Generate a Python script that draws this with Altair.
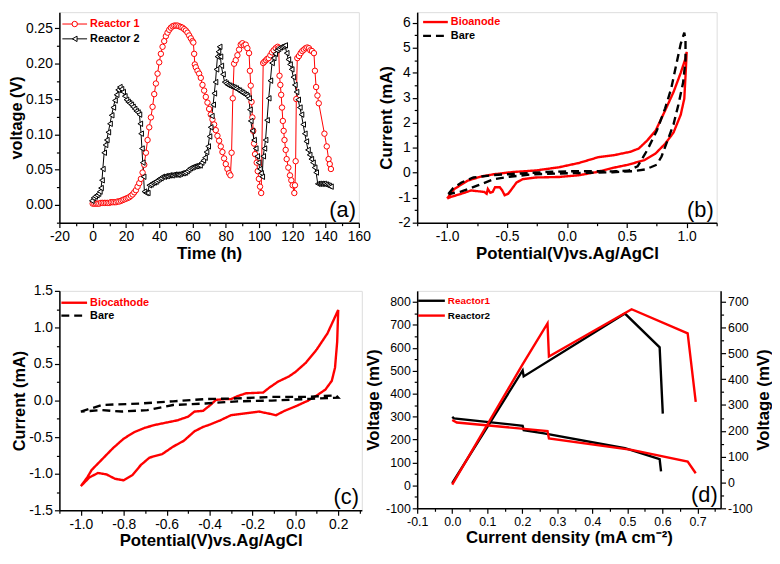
import altair as alt
import pandas as pd

RED = "#ff0000"
BLACK = "#000000"
FONT = "Liberation Sans"

# ---------------- panel (a): voltage vs time ----------------
r1_time = [0, 1, 2, 3, 4, 5, 6, 7, 8, 9, 10, 11, 12, 13, 14, 15, 16, 17, 18, 19, 20,
           21, 22, 23, 24, 25, 26, 27, 28, 29, 30, 31, 32, 33, 34, 35, 36, 37, 38, 39, 40,
           41, 42, 43, 44, 45, 46, 47, 48, 49, 50, 51, 52, 53, 54, 55, 56, 57, 58, 59, 60,
           60.5, 61, 61.4, 62, 63, 64, 65, 66, 67, 68, 69, 70, 71, 72, 73, 74, 75, 76, 77,
           78, 79, 80, 81, 82, 82.8, 83.5, 84.2, 85, 86, 87, 88, 89, 90, 91, 92, 93, 94,
           94.5, 95, 95.5, 96, 96.5, 97, 97.6, 98.6, 99.2, 99.9, 100.6, 101.3, 102.5, 103.3,
           104.2, 105, 105.8, 106.8, 107.8, 108.8, 110, 111.2, 111.8, 112.3, 112.8, 113.3,
           113.8, 114.3, 114.8, 115.3, 116, 116.6, 117.6, 118.6, 119.4, 120.2, 121.2, 121.6,
           122, 122.4, 123, 124, 125, 126, 127, 128, 129, 130, 130.8, 131.8, 133, 133.6,
           134.3, 135.1, 135.9, 139.3, 140.7, 141.8, 142.5, 143.2]
r1_volt = [0.002, 0.002, 0.002, 0.002, 0.002, 0.003, 0.003, 0.003, 0.003, 0.003, 0.003,
           0.004, 0.004, 0.004, 0.004, 0.005, 0.005, 0.006, 0.007, 0.008, 0.009,
           0.010, 0.011, 0.013, 0.015, 0.018, 0.021, 0.026, 0.031, 0.037, 0.046, 0.057,
           0.074, 0.092, 0.110, 0.124, 0.139, 0.157, 0.172, 0.186, 0.202,
           0.214, 0.224, 0.232, 0.239, 0.244, 0.248, 0.251, 0.253, 0.254, 0.254, 0.254,
           0.253, 0.252, 0.251, 0.249, 0.247, 0.244, 0.240, 0.236, 0.232,
           0.230, 0.214, 0.199, 0.195, 0.190, 0.186, 0.180, 0.170, 0.162, 0.153, 0.145,
           0.136, 0.128, 0.121, 0.114, 0.106, 0.098, 0.091, 0.083,
           0.075, 0.066, 0.058, 0.051, 0.045, 0.042, 0.074, 0.151, 0.200, 0.205, 0.212,
           0.220, 0.227, 0.229, 0.226, 0.227, 0.222, 0.215,
           0.190, 0.169, 0.146, 0.124, 0.105, 0.087, 0.072, 0.060, 0.048, 0.037, 0.026,
           0.017, 0.201, 0.203,
           0.205, 0.207, 0.208, 0.212, 0.216, 0.219, 0.222, 0.224, 0.222, 0.183, 0.170,
           0.156, 0.138, 0.119, 0.105, 0.092, 0.078, 0.065, 0.053, 0.042, 0.035, 0.028,
           0.017, 0.028, 0.062, 0.150, 0.208, 0.211, 0.215, 0.218, 0.220, 0.222, 0.223,
           0.222, 0.219, 0.218, 0.215, 0.190, 0.167, 0.155, 0.144, 0.101, 0.083, 0.065,
           0.058, 0.051]
r2_time = [-0.5, 0.5, 1.5, 2.5, 3.5, 4.3, 5, 5.6, 6.1, 6.9, 7.7, 8.5, 9.4, 10.4, 11.4,
           12.4, 13.4, 14.4, 15.3, 16.3, 17.3, 18.3, 19.3, 20.3, 21.3, 22.2, 23.2, 24.2,
           25.2, 26.2, 27.2, 28.1, 28.6, 29.1, 29.6, 30.1, 30.6, 31.1, 32.1, 33.1, 34, 35,
           36, 37, 38, 39, 40, 41, 41.9, 43, 44, 45, 46, 47, 48, 49, 50, 51, 51.7, 52.7,
           53.7, 54.7, 55.7, 56.7, 57.7, 58.6, 59.6, 60.6, 61.6, 62.6, 63.5, 64.5, 65.5,
           66.5, 67.5, 68.4, 69.4, 70.2, 70.9, 71.6, 72.4, 73.1, 73.8, 74.4, 75, 75.6, 76.3,
           76.8, 77.3, 78.3, 79.3, 80.3, 81.2, 82.2, 83.2, 84.2, 85.2, 86.2, 87.2, 88.2,
           89.1, 90.1, 91.1, 92.1, 93, 94, 94.5, 95, 96, 97, 98, 98.9, 99.7, 100.5, 101.2,
           101.9, 102.5, 103.2, 103.9, 104.8, 105.8, 106.8, 107.8, 108.8, 109.7, 110.7,
           111.7, 112.7, 113.7, 114.7, 115.7, 116.6, 117.6, 118.6, 119.6, 120.6, 121.5,
           122.5, 123.5, 124.5, 125.5, 126.5, 127.5, 128.4, 129.4, 130.4, 131.4, 132.4,
           133.4, 134.3, 135.3, 136.3, 137.3, 138.3, 139.3, 140.3, 141.3, 142.2, 143.2]
r2_volt = [0.006, 0.010, 0.012, 0.014, 0.016, 0.019, 0.024, 0.035, 0.051, 0.074, 0.085,
           0.092, 0.103, 0.115, 0.127, 0.138, 0.148, 0.156, 0.163, 0.167, 0.164, 0.160,
           0.154, 0.149, 0.146, 0.144, 0.142, 0.139, 0.136, 0.133, 0.131, 0.128, 0.115,
           0.101, 0.080, 0.060, 0.040, 0.019, 0.017, 0.017, 0.028, 0.029, 0.031, 0.032,
           0.033, 0.035, 0.037, 0.038, 0.040, 0.040, 0.041, 0.041, 0.042, 0.042, 0.042,
           0.043, 0.043, 0.043, 0.043, 0.044, 0.045, 0.045, 0.046, 0.048, 0.050, 0.052,
           0.053, 0.054, 0.055, 0.055, 0.056, 0.056, 0.060, 0.063, 0.067, 0.075, 0.083,
           0.097, 0.110, 0.126, 0.142, 0.158, 0.174, 0.192, 0.210, 0.217, 0.224, 0.210,
           0.197, 0.185, 0.174, 0.172, 0.170, 0.169, 0.168, 0.167, 0.166, 0.165, 0.163,
           0.162, 0.160, 0.159, 0.157, 0.156, 0.154, 0.151, 0.135, 0.119, 0.105, 0.092,
           0.080, 0.069, 0.060, 0.051, 0.045, 0.040, 0.069, 0.080, 0.092, 0.120, 0.151,
           0.176, 0.201, 0.208, 0.214, 0.219, 0.221, 0.223, 0.224, 0.225, 0.226, 0.215,
           0.206, 0.199, 0.192, 0.181, 0.170, 0.160, 0.149, 0.138, 0.128, 0.114, 0.101,
           0.090, 0.078, 0.071, 0.065, 0.060, 0.053, 0.046, 0.030, 0.030, 0.030, 0.030,
           0.030, 0.029, 0.028, 0.027, 0.026]
a_x_ticks = [-20, 0, 20, 40, 60, 80, 100, 120, 140, 160]
a_x_minor = [-10, 10, 30, 50, 70, 90, 110, 130, 150]
a_y_ticks = [0.0, 0.05, 0.10, 0.15, 0.20, 0.25]
a_y_minor = [-0.025, 0.025, 0.075, 0.125, 0.175, 0.225]

# ---------------- panel (b): bioanode CV ----------------
anode_E = [-1.0, -0.94, -0.83, -0.72, -0.61, -0.45, -0.26, -0.065, 0.1, 0.26, 0.40, 0.53,
           0.60, 0.67, 0.74, 0.81, 0.89, 0.95, 0.99, 1.0,
           0.99, 0.98, 0.95, 0.89, 0.82, 0.74, 0.65, 0.51, 0.38, 0.24, 0.1, -0.065, -0.26,
           -0.37, -0.42, -0.46, -0.49, -0.52, -0.54, -0.56, -0.60, -0.62, -0.64, -0.66,
           -0.67, -0.69, -0.80, -0.88, -0.97, -1.0]
anode_I = [-1.03, -0.65, -0.32, -0.155, -0.06, 0.03, 0.09, 0.22, 0.39, 0.62, 0.71, 0.84,
           0.97, 1.29, 1.68, 2.39, 3.23, 4.0, 4.58, 4.84,
           3.87, 2.97, 2.32, 1.61, 1.16, 0.77, 0.51, 0.32, 0.19, 0.02, -0.1, -0.17, -0.19,
           -0.26, -0.39, -0.65, -0.84, -0.90, -0.71, -0.58, -0.58, -0.77, -0.80, -0.65,
           -0.84, -0.77, -0.71, -0.84, -0.97, -1.03]
bare_b_E = [-0.99, -0.95, -0.88, -0.78, -0.61, -0.39, -0.17, 0.02, 0.26, 0.38, 0.51, 0.59,
            0.67, 0.75, 0.82, 0.87, 0.91, 0.95, 0.98, 0.99, 0.99, 0.97, 0.93, 0.89, 0.84,
            0.79, 0.75, 0.70, 0.65, 0.55, 0.38, 0.2, -0.07, -0.28, -0.48, -0.61, -0.75,
            -0.88, -0.99]
bare_b_I = [-0.85, -0.62, -0.39, -0.19, -0.09, -0.03, 0.03, 0.06, 0.06, 0.05, 0.08, 0.26,
            0.90, 1.68, 2.58, 3.36, 4.26, 5.16, 5.61, 5.29, 4.52, 3.61, 2.71, 1.94, 1.29,
            0.65, 0.32, 0.22, 0.13, 0.06, 0.02, 0.0, -0.03, -0.06, -0.16, -0.26, -0.52,
            -0.75, -0.85]
b_x_ticks = [-1.0, -0.5, 0.0, 0.5, 1.0]
b_x_minor = [-1.25, -0.75, -0.25, 0.25, 0.75, 1.25]
b_y_ticks = [-2, -1, 0, 1, 2, 3, 4, 5, 6]
b_y_minor = [-1.5, -0.5, 0.5, 1.5, 2.5, 3.5, 4.5, 5.5]

# ---------------- panel (c): biocathode CV ----------------
cath_E = [-1.0, -0.97, -0.95, -0.9, -0.85, -0.8, -0.75, -0.7, -0.65, -0.6, -0.55, -0.5,
          -0.47, -0.43, -0.4, -0.37, -0.33, -0.3, -0.27, -0.23, -0.15, -0.12, -0.08,
          -0.03, 0.0, 0.05, 0.1, 0.15, 0.2,
          0.195, 0.185, 0.17, 0.14, 0.1, 0.06, 0.0, -0.05, -0.09, -0.12, -0.17, -0.22,
          -0.3, -0.35, -0.4, -0.43, -0.47, -0.52, -0.57, -0.62, -0.68, -0.72, -0.76, -0.8,
          -0.84, -0.88, -0.92, -0.96, -1.0]
cath_I = [-1.17, -1.05, -0.95, -0.80, -0.65, -0.52, -0.43, -0.37, -0.33, -0.30, -0.27,
          -0.22, -0.15, -0.14, -0.07, 0.01, 0.02, 0.02, 0.06, 0.10, 0.11, 0.18, 0.26,
          0.33, 0.39, 0.52, 0.70, 0.92, 1.24,
          0.80, 0.45, 0.27, 0.15, 0.07, 0.0, -0.08, -0.14, -0.20, -0.18, -0.15, -0.17,
          -0.20, -0.27, -0.33, -0.36, -0.42, -0.55, -0.63, -0.73, -0.78, -0.88, -1.02,
          -1.09, -1.07, -1.01, -0.99, -1.05, -1.17]
bare_c_E = [-1.0, -0.9, -0.72, -0.57, -0.42, -0.27, -0.11, 0.04, 0.19, 0.2, 0.04, -0.11,
            -0.27, -0.42, -0.57, -0.69, -0.81, -0.9, -1.0]
bare_c_I = [-0.15, -0.06, -0.04, -0.01, 0.02, 0.03, 0.05, 0.05, 0.07, 0.04, 0.02, 0.0,
            -0.01, -0.04, -0.06, -0.13, -0.15, -0.13, -0.15]
c_x_ticks = [-1.0, -0.8, -0.6, -0.4, -0.2, 0.0, 0.2]
c_x_minor = [-1.1, -0.9, -0.7, -0.5, -0.3, -0.1, 0.1, 0.3]
c_y_ticks = [-1.5, -1.0, -0.5, 0.0, 0.5, 1.0, 1.5]
c_y_minor = [-1.25, -0.75, -0.25, 0.25, 0.75, 1.25]

# ---------------- panel (d): polarization / power curves ----------------
r1_pow_j = [0.0, 0.201, 0.204, 0.493, 0.592, 0.601]
r1_pow_v = [10, 501, 475, 749, 602, 313]
r1_pol_j = [0.0, 0.005, 0.201, 0.204, 0.262, 0.493, 0.592, 0.596]
r1_pol_v = [299, 292, 260, 241, 227, 162, 114, 61]
r2_pow_j = [0.0, 0.2, 0.272, 0.276, 0.512, 0.672, 0.695]
r2_pow_v = [3, 525, 706, 562, 768, 663, 364]
r2_pol_j = [0.0, 0.013, 0.272, 0.276, 0.512, 0.672, 0.695]
r2_pol_v = [285, 274, 237, 205, 155, 104, 53]
d_x_ticks = [-0.1, 0.0, 0.1, 0.2, 0.3, 0.4, 0.5, 0.6, 0.7]
d_x_minor = [-0.05, 0.05, 0.15, 0.25, 0.35, 0.45, 0.55, 0.65, 0.75]
d_yl_ticks = [-100, 0, 100, 200, 300, 400, 500, 600, 700, 800]
d_yl_minor = [-50, 50, 150, 250, 350, 450, 550, 650, 750]
d_yr_ticks = [-100, 0, 100, 200, 300, 400, 500, 600, 700]
d_yr_minor = [-50, 50, 150, 250, 350, 450, 550, 650]


# ---------------- helpers ----------------
def major_axis(values, fmt, orient, lsize, tpad=3, tsize=17):
    return alt.Axis(values=values, format=fmt, orient=orient, labelFontSize=lsize,
                    labelFont=FONT, titleFont=FONT, titleFontSize=tsize,
                    titleFontWeight="bold", labelColor=BLACK, titleColor=BLACK,
                    domainColor=BLACK, tickColor=BLACK, tickSize=5, tickWidth=1.2,
                    domainWidth=1.5, labelPadding=2, titlePadding=tpad, grid=False,
                    labelFlush=False, labelOverlap=False)


def minor_axis(values, orient):
    return alt.Axis(values=values, orient=orient, labels=False, domain=False, grid=False,
                    tickSize=3, tickWidth=1.2, tickColor=BLACK)


def frame_df():
    return pd.DataFrame({"k": [0]})


def legend_text(txt, x, y, color, size=11):
    return alt.Chart(frame_df()).mark_text(
        text=txt, align="left", baseline="middle", font=FONT, fontWeight="bold",
        fontSize=size, color=color).encode(x=alt.value(x), y=alt.value(y))


def legend_line(x1, x2, y, color, width, dash=None):
    kw = dict(color=color, strokeWidth=width)
    if dash is not None:
        kw["strokeDash"] = dash
    return alt.Chart(frame_df()).mark_rule(**kw).encode(
        x=alt.value(x1), x2=alt.value(x2), y=alt.value(y))


def legend_point(x, y, shape, color):
    return alt.Chart(frame_df()).mark_point(
        shape=shape, filled=True, fill="white", stroke=color, strokeWidth=1,
        size=30, opacity=1).encode(x=alt.value(x), y=alt.value(y))


def panel_label(txt, w, h):
    return alt.Chart(frame_df()).mark_text(
        text=txt, align="right", baseline="bottom", font=FONT, fontSize=22,
        color=BLACK).encode(x=alt.value(w - 3), y=alt.value(h - 1))


# ---------------- build panel (a) ----------------
WA, HA = 303, 213
df_a = pd.DataFrame({
    "t": r1_time + r2_time,
    "v": r1_volt + r2_volt,
    "s": ["Reactor 1"] * len(r1_time) + ["Reactor 2"] * len(r2_time),
})
sx_a = alt.Scale(domain=[-20, 160], nice=False, zero=False)
sy_a = alt.Scale(domain=[-0.025, 0.273], nice=False, zero=False)
xa = alt.X("t:Q", scale=sx_a, title="Time (h)",
           axis=major_axis(a_x_ticks, "d", "bottom", 14, tpad=2))
ya = alt.Y("v:Q", scale=sy_a, title="voltage (V)",
           axis=major_axis(a_y_ticks, ".2f", "left", 14, tpad=1, tsize=16.5))
ser_scale = alt.Scale(domain=["Reactor 1", "Reactor 2"], range=[RED, BLACK])
line_a = alt.Chart(df_a).mark_line(strokeWidth=1).encode(
    x=xa, y=ya, color=alt.Color("s:N", scale=ser_scale, legend=None))
pts_a = alt.Chart(df_a).mark_point(filled=True, fill="white", size=30, strokeWidth=1,
                                   opacity=1).encode(
    x=xa, y=ya, stroke=alt.Stroke("s:N", scale=ser_scale, legend=None),
    shape=alt.Shape("s:N", scale=alt.Scale(domain=["Reactor 1", "Reactor 2"],
                                           range=["circle", "triangle-left"]), legend=None))
minor_a = alt.Chart(df_a).mark_point(opacity=0).encode(
    x=alt.X("t:Q", scale=sx_a, title=None, axis=minor_axis(a_x_minor, "bottom")),
    y=alt.Y("v:Q", scale=sy_a, title=None, axis=minor_axis(a_y_minor, "left")))
panel_a = alt.layer(
    alt.layer(line_a, pts_a), minor_a,
    legend_line(3, 28, 12, RED, 1), legend_point(15.5, 12, "circle", RED),
    legend_text("Reactor 1", 31, 12, RED),
    legend_line(3, 28, 27, BLACK, 1), legend_point(15.5, 27, "triangle-left", BLACK),
    legend_text("Reactor 2", 31, 27, BLACK),
    panel_label("(a)", WA, HA),
).resolve_scale(x="independent", y="independent").properties(width=WA, height=HA)


# ---------------- CV panel builder ----------------
def cv_panel(E1, I1, name1, E2, I2, xdom, ydom, xt, xm, yt, ym, w, h, lsize, label,
             leg_pos, ytpad, ytsize):
    df = pd.DataFrame({
        "E": E1 + E2,
        "I": I1 + I2,
        "s": [name1] * len(E1) + ["Bare"] * len(E2),
        "i": list(range(len(E1))) + list(range(len(E2))),
    })
    sx = alt.Scale(domain=xdom, nice=False, zero=False)
    sy = alt.Scale(domain=ydom, nice=False, zero=False)
    line = alt.Chart(df).mark_line(strokeWidth=2.4).encode(
        x=alt.X("E:Q", scale=sx, title="Potential(V)vs.Ag/AgCl",
                axis=major_axis(xt, ".1f", "bottom", lsize, tpad=2)),
        y=alt.Y("I:Q", scale=sy, title="Current (mA)",
                axis=major_axis(yt, ".1f" if isinstance(yt[0], float) else "d", "left",
                                lsize, tpad=ytpad, tsize=ytsize)),
        color=alt.Color("s:N", scale=alt.Scale(domain=[name1, "Bare"], range=[RED, BLACK]),
                        legend=None),
        strokeDash=alt.StrokeDash("s:N", scale=alt.Scale(domain=[name1, "Bare"],
                                                         range=[[1, 0], [8, 5]]), legend=None),
        order=alt.Order("i:Q"),
    )
    minor = alt.Chart(df).mark_point(opacity=0).encode(
        x=alt.X("E:Q", scale=sx, title=None, axis=minor_axis(xm, "bottom")),
        y=alt.Y("I:Q", scale=sy, title=None, axis=minor_axis(ym, "left")))
    lx1, lx2, ly1, ly2 = leg_pos
    return alt.layer(
        line, minor,
        legend_line(lx1, lx2, ly1, RED, 2.4), legend_text(name1, lx2 + 3, ly1, RED),
        legend_line(lx1, lx2, ly2, BLACK, 2.4, dash=[8, 5]),
        legend_text("Bare", lx2 + 3, ly2, BLACK),
        panel_label(label, w, h),
    ).resolve_scale(x="independent", y="independent").properties(width=w, height=h)


WB, HB = 303, 213
panel_b = cv_panel(anode_E, anode_I, "Bioanode", bare_b_E, bare_b_I, [-1.25, 1.25],
                   [-2, 6.43], b_x_ticks, b_x_minor, b_y_ticks, b_y_minor, WB, HB, 14,
                   "(b)", (6, 31, 10, 24), 3, 17)
WC, HC = 306, 222
panel_c = cv_panel(cath_E, cath_I, "Biocathode", bare_c_E, bare_c_I, [-1.1, 0.31],
                   [-1.5, 1.5], c_x_ticks, c_x_minor, c_y_ticks, c_y_minor, WC, HC, 14,
                   "(c)", (2, 28, 12, 25), 1, 16.5)

# ---------------- build panel (d) ----------------
WD, HD = 307, 220
df_d = pd.DataFrame({
    "j": r1_pow_j + r1_pol_j + r2_pow_j + r2_pol_j,
    "mv": r1_pow_v + r1_pol_v + r2_pow_v + r2_pol_v,
    "curve": (["r1p"] * len(r1_pow_j) + ["r1v"] * len(r1_pol_j)
              + ["r2p"] * len(r2_pow_j) + ["r2v"] * len(r2_pol_j)),
    "reactor": (["Reactor1"] * (len(r1_pow_j) + len(r1_pol_j))
                + ["Reactor2"] * (len(r2_pow_j) + len(r2_pol_j))),
    "i": (list(range(len(r1_pow_j))) + list(range(len(r1_pol_j)))
          + list(range(len(r2_pow_j))) + list(range(len(r2_pol_j)))),
})
sx_d = alt.Scale(domain=[-0.1, 0.766], nice=False, zero=False)
sy_d = alt.Scale(domain=[-100, 848], nice=False, zero=False)
line_d = alt.Chart(df_d).mark_line(strokeWidth=2.4).encode(
    x=alt.X("j:Q", scale=sx_d, title="Current density (mA cm⁻²)",
            axis=major_axis(d_x_ticks, ".1f", "bottom", 12.5, tpad=2)),
    y=alt.Y("mv:Q", scale=sy_d, title="Voltage (mV)",
            axis=major_axis(d_yl_ticks, "d", "left", 12.5)),
    color=alt.Color("reactor:N", scale=alt.Scale(domain=["Reactor1", "Reactor2"],
                                                 range=[BLACK, RED]), legend=None),
    detail="curve:N",
    order=alt.Order("i:Q"),
)
minor_d = alt.Chart(df_d).mark_point(opacity=0).encode(
    x=alt.X("j:Q", scale=sx_d, title=None, axis=minor_axis(d_x_minor, "bottom")),
    y=alt.Y("mv:Q", scale=sy_d, title=None, axis=minor_axis(d_yl_minor, "left")))
df_right = pd.DataFrame({"j": [0.0] * len(d_yr_ticks), "mv": d_yr_ticks})
right_axis = major_axis(d_yr_ticks, "d", "right", 12.5)
right_axis["titleAngle"] = 270
right_axis["titleBaseline"] = "top"
right_d = alt.Chart(df_right).mark_point(opacity=0).encode(
    x=alt.X("j:Q", scale=sx_d, axis=None),
    y=alt.Y("mv:Q", scale=alt.Scale(domain=[-100, 742], nice=False, zero=False),
            title="Voltage (mV)", axis=right_axis))
right_minor_d = alt.Chart(df_right).mark_point(opacity=0).encode(
    x=alt.X("j:Q", scale=sx_d, axis=None),
    y=alt.Y("mv:Q", scale=alt.Scale(domain=[-100, 742], nice=False, zero=False),
            title=None, axis=minor_axis(d_yr_minor, "right")))
panel_d = alt.layer(
    line_d, minor_d, right_d, right_minor_d,
    legend_line(1, 28, 10, BLACK, 2.4), legend_text("Reactor1", 31, 10, RED, 10),
    legend_line(1, 28, 25, RED, 2.4), legend_text("Reactor2", 31, 25, BLACK, 10),
    panel_label("(d)", WD, HD),
).resolve_scale(x="independent", y="independent").properties(width=WD, height=HD)

chart = alt.concat(
    panel_a, panel_b, panel_c, panel_d, columns=2,
    spacing=alt.RowColnumber(row=69, column=56), bounds="flush",
).properties(
    padding={"left": 0, "top": 0, "right": 0, "bottom": 0}
).configure_view(
    stroke=BLACK, strokeWidth=1.5
).configure(
    locale={"number": {"decimal": ".", "thousands": ",", "grouping": [3],
                       "currency": ["", ""], "minus": "-"}}
)

chart.save("out.html", embed_options={"renderer": "svg", "actions": False})
